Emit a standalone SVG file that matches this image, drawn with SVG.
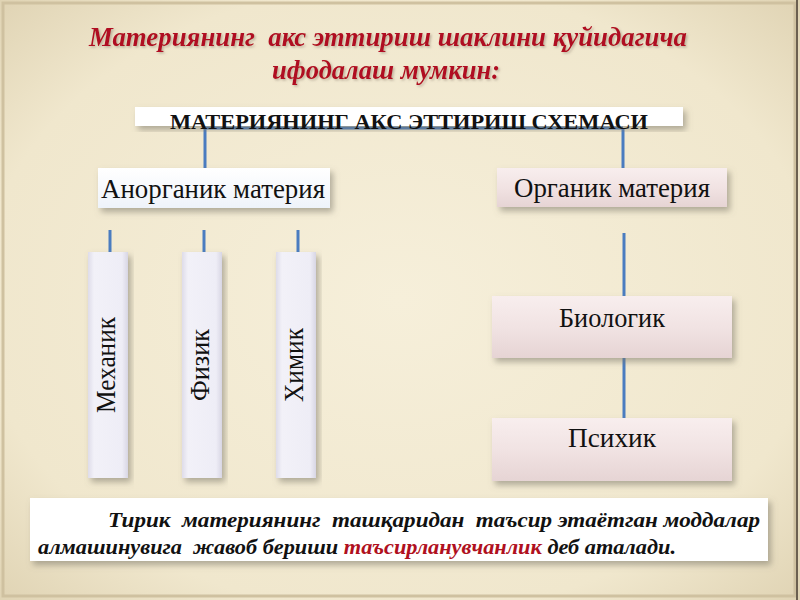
<svg xmlns="http://www.w3.org/2000/svg" width="800" height="600" viewBox="0 0 800 600">
<defs>
<radialGradient id="bg" cx="50%" cy="50%" r="75%">
<stop offset="0" stop-color="#f6efda"/>
<stop offset="0.7" stop-color="#f0e7cd"/>
<stop offset="1" stop-color="#dccfae"/>
</radialGradient>
<linearGradient id="gWhite" x1="0" y1="0" x2="0" y2="1">
<stop offset="0" stop-color="#ffffff"/>
<stop offset="1" stop-color="#eef3fa"/>
</linearGradient>
<linearGradient id="gPink" x1="0" y1="0" x2="0" y2="1">
<stop offset="0" stop-color="#f8eeee"/>
<stop offset="0.5" stop-color="#f1e3e3"/>
<stop offset="1" stop-color="#e6d4d4"/>
</linearGradient>
<linearGradient id="gLav" x1="0" y1="0" x2="1" y2="0">
<stop offset="0" stop-color="#dedce9"/>
<stop offset="0.15" stop-color="#f2f1f8"/>
<stop offset="0.85" stop-color="#eeedf6"/>
<stop offset="1" stop-color="#d8d6e4"/>
</linearGradient>
<filter id="sh" x="-10%" y="-20%" width="125%" height="150%">
<feDropShadow dx="3" dy="4" stdDeviation="3" flood-color="#7a7466" flood-opacity="0.55"/>
</filter>
<filter id="tsh" x="-5%" y="-20%" width="110%" height="150%">
<feDropShadow dx="1.5" dy="1.5" stdDeviation="1" flood-color="#8a7a6a" flood-opacity="0.5"/>
</filter>
</defs>
<style>
.ttl{font-family:"Liberation Serif",serif;font-weight:bold;font-style:italic;font-size:28px;fill:#b01020}
.box{font-family:"Liberation Serif",serif;font-size:27px;fill:#111}
.hdr{font-family:"Liberation Serif",serif;font-weight:bold;font-size:21px;fill:#111}
.bt{font-family:"Liberation Serif",serif;font-weight:bold;font-style:italic;font-size:22px;fill:#111}
.red{fill:#b01020}
.ln{stroke:#4a7cc0;stroke-width:3;fill:none}
</style>
<rect x="0" y="0" width="800" height="600" fill="url(#bg)"/>
<rect x="3" y="3" width="792" height="593" fill="none" stroke="#cfc1a0" stroke-width="3"/>
<line x1="797" y1="0" x2="797" y2="600" stroke="#6b6050" stroke-width="2"/>

<g id="title" filter="url(#tsh)">
<text class="ttl" x="388" y="46" text-anchor="middle" textLength="598" lengthAdjust="spacingAndGlyphs" xml:space="preserve">Материянинг  акс эттириш шаклини қуйидагича</text>
<text class="ttl" x="386" y="79" text-anchor="middle" textLength="228" lengthAdjust="spacingAndGlyphs">ифодалаш мумкин:</text>
</g>

<g id="connectors">
<line class="ln" x1="205" y1="128" x2="623" y2="128" stroke="#3d6aa6" stroke-width="4"/>
<line class="ln" x1="205" y1="128" x2="205" y2="174"/>
<line class="ln" x1="623" y1="128" x2="623" y2="174"/>
<line class="ln" x1="110" y1="230" x2="110" y2="252"/>
<line class="ln" x1="204" y1="230" x2="204" y2="252"/>
<line class="ln" x1="298" y1="230" x2="298" y2="252"/>
<line class="ln" x1="624" y1="233" x2="624" y2="297"/>
<line class="ln" x1="624" y1="358" x2="624" y2="420"/>
</g>

<g id="header">
<rect x="135" y="107" width="548" height="19" fill="#ffffff" filter="url(#sh)"/>
<text class="hdr" x="409" y="129" text-anchor="middle" textLength="478" lengthAdjust="spacingAndGlyphs">МАТЕРИЯНИНГ АКС ЭТТИРИШ СХЕМАСИ</text>
</g>

<g id="anorganik">
<rect x="98" y="168" width="232" height="40" fill="url(#gWhite)" filter="url(#sh)"/>
<text class="box" x="213" y="198" text-anchor="middle" textLength="224" lengthAdjust="spacingAndGlyphs">Анорганик материя</text>
</g>

<g id="organik">
<rect x="497" y="168" width="230" height="39" fill="url(#gPink)" filter="url(#sh)"/>
<text class="box" x="612" y="197" text-anchor="middle" textLength="196" lengthAdjust="spacingAndGlyphs">Органик материя</text>
</g>

<g id="mexanik">
<rect x="88" y="252" width="40" height="226" fill="url(#gLav)" filter="url(#sh)"/>
<text class="box" transform="translate(115 365) rotate(-90)" text-anchor="middle" textLength="96" lengthAdjust="spacingAndGlyphs">Механик</text>
</g>

<g id="fizik">
<rect x="182" y="252" width="40" height="226" fill="url(#gLav)" filter="url(#sh)"/>
<text class="box" transform="translate(209 365) rotate(-90)" text-anchor="middle" textLength="72" lengthAdjust="spacingAndGlyphs">Физик</text>
</g>

<g id="ximik">
<rect x="276" y="252" width="40" height="226" fill="url(#gLav)" filter="url(#sh)"/>
<text class="box" transform="translate(303 365) rotate(-90)" text-anchor="middle" textLength="74" lengthAdjust="spacingAndGlyphs">Химик</text>
</g>

<g id="biologik">
<rect x="492" y="296" width="240" height="62" fill="url(#gPink)" filter="url(#sh)"/>
<text class="box" x="612" y="327" text-anchor="middle" textLength="106" lengthAdjust="spacingAndGlyphs">Биологик</text>
</g>

<g id="psixik">
<rect x="492" y="418" width="240" height="63" fill="url(#gPink)" filter="url(#sh)"/>
<text class="box" x="612" y="447" text-anchor="middle" textLength="88" lengthAdjust="spacingAndGlyphs">Психик</text>
</g>

<g id="note">
<rect x="30" y="498" width="738" height="63" fill="#ffffff" filter="url(#sh)"/>
<text class="bt" x="108" y="527" textLength="652" lengthAdjust="spacingAndGlyphs" xml:space="preserve">Тирик  материянинг  ташқаридан  таъсир этаётган моддалар</text>
<text class="bt" x="38" y="554" textLength="638" lengthAdjust="spacingAndGlyphs" xml:space="preserve">алмашинувига  жавоб бериши <tspan class="red">таъсирланувчанлик</tspan> деб аталади.</text>
</g>
</svg>
